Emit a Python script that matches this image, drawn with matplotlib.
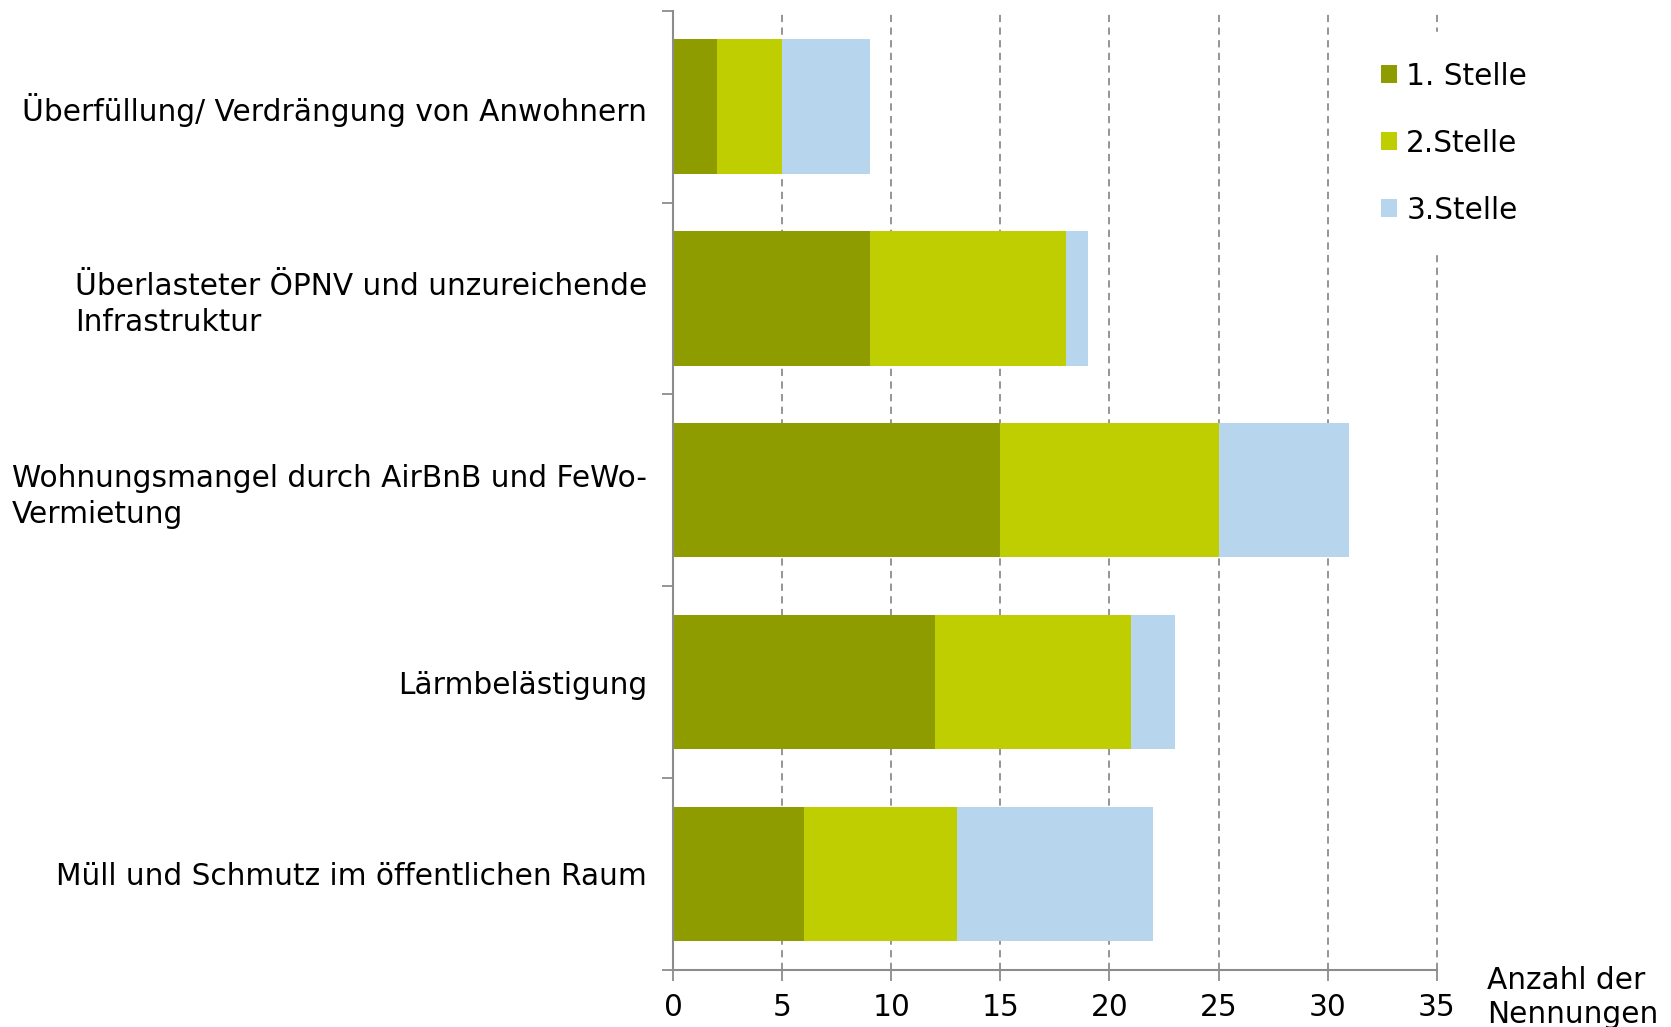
import matplotlib
matplotlib.use('Agg')
import matplotlib.pyplot as plt
import numpy as np

# ── Data ──────────────────────────────────────────────────────────────────────
categories = [
    'Überfüllung/ Verdrängung von Anwohnern',
    'Überlasteter ÖPNV und unzureichende\nInfrastruktur',
    'Wohnungsmangel durch AirBnB und FeWo-\nVermietung',
    'Lärmbelästigung',
    'Müll und Schmutz im öffentlichen Raum',
]
stelle_1 = [2, 9, 15, 12, 6]
stelle_2 = [3, 9, 10, 9, 7]
stelle_3 = [4, 1, 6, 2, 9]
series_labels = ['1. Stelle', '2.Stelle', '3.Stelle']
x_ticks = [0, 5, 10, 15, 20, 25, 30, 35]

colors = ['#8e9c00', '#bfce00', '#b7d5ec']
FS = 21.3

plt.rcParams['font.family'] = ['DejaVu Sans']

fig = plt.figure(figsize=(16.71, 10.27), dpi=100)
ax = fig.add_axes([0.403, 0.0557, 0.4567, 0.9339])

y = np.arange(len(categories))
left = np.zeros(len(categories))
for vals, lab, col in zip([stelle_1, stelle_2, stelle_3], series_labels, colors):
    ax.barh(y, vals, left=left, height=0.7, color=col, label=lab, zorder=3)
    left += np.array(vals)

ax.set_ylim(len(categories) - 0.5, -0.5)
ax.set_xlim(0, 35)

# grid
for xv in x_ticks[1:]:
    ax.axvline(xv, color='#8c8c8c', linestyle=(0, (4, 3)), linewidth=1.3,
               zorder=1, clip_on=False)

# spines
for s in ['top', 'right']:
    ax.spines[s].set_visible(False)
for s in ['left', 'bottom']:
    ax.spines[s].set_color('#8c8c8c')
    ax.spines[s].set_linewidth(1.5)
    ax.spines[s].set_zorder(4)

ax.set_xticks(x_ticks)
ax.set_xticklabels([str(v) for v in x_ticks], fontsize=FS)
ax.tick_params(axis='x', length=8, width=1.3, color='#8c8c8c', pad=9)

# y ticks at category boundaries, labels at centers
ax.set_yticks(np.arange(-0.5, len(categories)), minor=True)
ax.set_yticks(y)
ax.set_yticklabels(categories, fontsize=FS, ha='right', multialignment='left',
                   linespacing=1.3)
ax.tick_params(axis='y', which='major', length=0, pad=19)
ax.tick_params(axis='y', which='minor', length=8, width=1.3, color='#8c8c8c')

fig.text(0.890, 0.029, 'Anzahl der\nNennungen', fontsize=FS, ha='left',
         va='center', linespacing=1.2)

leg = ax.legend(loc='upper left', bbox_to_anchor=(0.800, 0.983),
                bbox_transform=fig.transFigure, fontsize=FS, frameon=True,
                handlelength=0.55, handleheight=0.55, handletextpad=0.3,
                labelspacing=1.28, borderpad=1.0)
leg.get_frame().set_facecolor('white')
leg.get_frame().set_edgecolor('white')
leg.get_frame().set_alpha(1)
leg.set_zorder(5)

plt.savefig('out.png', dpi=100)
plt.close(fig)
